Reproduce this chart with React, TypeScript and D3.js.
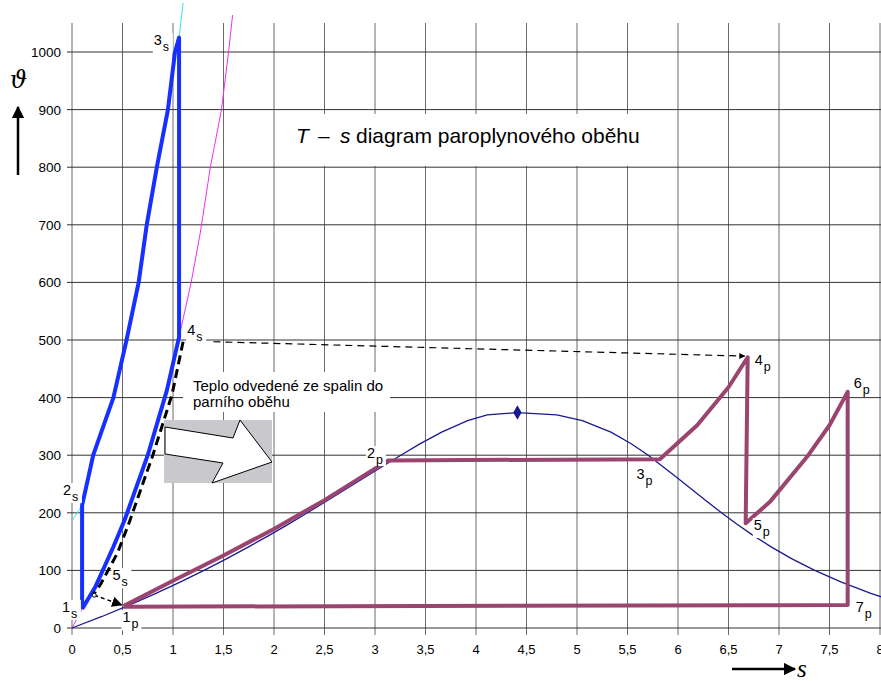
import React from "react";
import * as d3 from "d3";

const W = 881;
const H = 681;

// saturation curve of water: temperature, liquid entropy, vapour entropy
const satT = [0.01, 20, 40, 60, 80, 100, 120, 140, 160, 180, 200, 220, 240, 260, 280, 300, 320, 340, 360, 370];
const satSf = [0, 0.297, 0.573, 0.831, 1.075, 1.307, 1.528, 1.739, 1.943, 2.14, 2.331, 2.518, 2.702, 2.885, 3.069, 3.255, 3.449, 3.66, 3.917, 4.111];
const satSg = [9.155, 8.666, 8.256, 7.909, 7.612, 7.354, 7.129, 6.93, 6.75, 6.585, 6.431, 6.284, 6.141, 5.998, 5.852, 5.705, 5.537, 5.336, 5.053, 4.8];
const critical = { s: 4.41, t: 374 };

// steam cycle (p)
const steamS = [0.51, 1.0, 1.5, 2.0, 2.5, 3.13, 5.82, 6.19, 6.5, 6.69, 6.67, 6.91, 7.29, 7.5, 7.68, 7.68, 0.51];
const steamT = [38, 82, 126, 172, 222, 291, 293, 352, 418, 470, 182, 219, 300, 352, 410, 40, 37];

// gas cycle (s)
const gasS = [0.1, 0.1, 0.21, 0.41, 0.54, 0.66, 0.74, 0.84, 0.95, 1.02, 1.06, 1.06, 0.94, 0.75, 0.52, 0.41, 0.23, 0.1];
const gasT = [33, 213, 300, 400, 500, 600, 700, 800, 900, 1000, 1025, 505, 413, 300, 187, 141, 71, 33];

// isobar extensions
const hiIsoS = [1.06, 1.1];
const hiIsoT = [1025, 1085];
const hiIsoLowS = [0, 0.1];
const hiIsoLowT = [186, 213];
const loIsoS = [1.06, 1.18, 1.27, 1.37, 1.48, 1.55, 1.59];
const loIsoT = [505, 600, 686, 800, 900, 1000, 1064];
const loIsoLowS = [0, 0.1];
const loIsoLowT = [0, 33];

// heat given from flue gas to steam cycle
const hrsgS = [1.1, 0.99, 0.8, 0.57, 0.45, 0.28, 0.22];
const hrsgT = [497, 405, 300, 185, 130, 75, 60];

const xTicks = d3.range(0, 8.01, 0.5);
const yTicks = d3.range(0, 1001, 100);

const labels = [
  { n: "3", sub: "s", s: 0.81, t: 1012 },
  { n: "4", sub: "s", s: 1.14, t: 509 },
  { n: "2", sub: "s", s: -0.09, t: 231 },
  { n: "1", sub: "s", s: -0.1, t: 28 },
  { n: "5", sub: "s", s: 0.4, t: 83 },
  { n: "1", sub: "p", s: 0.5, t: 10 },
  { n: "2", sub: "p", s: 2.92, t: 295 },
  { n: "3", sub: "p", s: 5.59, t: 259 },
  { n: "4", sub: "p", s: 6.76, t: 457 },
  { n: "5", sub: "p", s: 6.75, t: 170 },
  { n: "6", sub: "p", s: 7.74, t: 417 },
  { n: "7", sub: "p", s: 7.76, t: 28 },
];

const x = d3.scaleLinear().domain([0, 8]).range([72, 880]);
const y = d3.scaleLinear().domain([0, 1000]).range([628, 52]);

const zip = (a: number[], b: number[]) => a.map((v, i) => [v, b[i]] as [number, number]);
const line = d3
  .line<[number, number]>()
  .x((d) => x(d[0]))
  .y((d) => y(d[1]));

const font = "'Liberation Sans', Arial, sans-serif";
const fmt = (v: number) => String(v).replace(".", ",");

const App = () => {
  const satPts: [number, number][] = [
    ...zip(satSf, satT),
    [critical.s, critical.t],
    ...zip(satSg, satT).reverse(),
  ];
  const top = 23;
  return (
    <svg
      width={W}
      height={H}
      style={{ position: "absolute", left: 0, top: 0, background: "#fff" }}
      fontFamily={font}
    >
      <defs>
        <marker id="ah" viewBox="0 0 10 10" refX="9" refY="5" markerWidth="7" markerHeight="7" orient="auto">
          <path d="M0,0 L10,5 L0,10 z" fill="#000" />
        </marker>
        <marker id="ah2" viewBox="0 0 10 10" refX="9" refY="5" markerWidth="5" markerHeight="5" orient="auto">
          <path d="M0,0 L10,5 L0,10 z" fill="#000" />
        </marker>
      </defs>

      {/* grid */}
      {xTicks.map((v) => (
        <line key={"vx" + v} x1={x(v)} x2={x(v)} y1={top} y2={635} stroke="#6a6a6a" strokeWidth={1} />
      ))}
      {yTicks.map((v) => (
        <line key={"hy" + v} x1={67} x2={W} y1={y(v)} y2={y(v)} stroke="#333" strokeWidth={1} />
      ))}

      {/* tick labels */}
      {yTicks.map((v) => (
        <text key={"ty" + v} x={61} y={y(v) + 5} textAnchor="end" fontSize={13.5}>
          {v}
        </text>
      ))}
      {xTicks.map((v) => (
        <text key={"tx" + v} x={x(v)} y={654} textAnchor="middle" fontSize={13}>
          {fmt(v)}
        </text>
      ))}

      {/* axis titles */}
      <text x={10} y={88} fontSize={24} fontStyle="italic" fontFamily="'DejaVu Serif', serif">
        ϑ
      </text>
      <line x1={18} y1={175} x2={18} y2={107} stroke="#000" strokeWidth={2.5} markerEnd="url(#ah2)" />
      <line x1={732} y1={669} x2={795} y2={669} stroke="#000" strokeWidth={2.5} markerEnd="url(#ah2)" />
      <text x={797} y={677} fontSize={25} fontStyle="italic" fontFamily="'Liberation Serif', serif">
        s
      </text>

      {/* title */}
      <rect x={285} y={114} width={380} height={52} fill="#fff" />
      <text y={143} fontSize={21}>
        <tspan x={296} fontStyle="italic">T</tspan>
        <tspan x={318}>–</tspan>
        <tspan x={340} fontStyle="italic">s</tspan>
        <tspan x={356}>diagram paroplynového oběhu</tspan>
      </text>

      {/* isobar extensions */}
      <path d={line(zip(hiIsoS, hiIsoT)) || ""} fill="none" stroke="#33e6f0" strokeWidth={1} />
      <path d={line(zip(hiIsoLowS, hiIsoLowT)) || ""} fill="none" stroke="#33e6f0" strokeWidth={1} />
      <path d={line(zip(loIsoS, loIsoT)) || ""} fill="none" stroke="#f030f0" strokeWidth={1} />
      <path d={line(zip(loIsoLowS, loIsoLowT)) || ""} fill="none" stroke="#f030f0" strokeWidth={1} />

      {/* annotation box */}
      <rect x={183} y={372} width={207} height={40} fill="#fff" />
      <text x={193} y={391} fontSize={15}>
        Teplo odvedené ze spalin do
      </text>
      <text x={193} y={407} fontSize={15}>
        parního oběhu
      </text>

      {/* saturation curve */}
      <path d={line(satPts) || ""} fill="none" stroke="#1a1a90" strokeWidth={1.3} />
      <path
        d={d3.symbol(d3.symbolDiamond, 60)() || ""}
        transform={`translate(${x(critical.s)},${y(critical.t)})`}
        fill="#1a1a90"
      />

      {/* steam cycle */}
      <path
        d={line(zip(steamS, steamT)) || ""}
        fill="none"
        stroke="#9a4470"
        strokeWidth={4}
        strokeLinejoin="round"
      />

      {/* gas cycle */}
      <path
        d={line(zip(gasS, gasT)) || ""}
        fill="none"
        stroke="#1530ff"
        strokeWidth={4}
        strokeLinejoin="round"
      />

      {/* heat transfer */}
      <path
        d={line(zip(hrsgS, hrsgT)) || ""}
        fill="none"
        stroke="#000"
        strokeWidth={3}
        strokeDasharray="9,5"
      />
      <line
        x1={x(0.22)}
        y1={y(57)}
        x2={x(0.49)}
        y2={y(40)}
        stroke="#000"
        strokeWidth={1.5}
        strokeDasharray="4,3"
        markerEnd="url(#ah)"
      />
      <circle cx={x(0.22)} cy={y(57)} r={2} fill="#fff" stroke="#000" strokeWidth={1} />
      <line
        x1={x(1.4)}
        y1={y(497)}
        x2={x(6.66)}
        y2={y(472)}
        stroke="#000"
        strokeWidth={1.2}
        strokeDasharray="7,5"
        markerEnd="url(#ah2)"
      />

      {/* block arrow */}
      <rect x={164} y={420} width={108} height={63} fill="#c9c8cd" />
      <path
        d="M165,427 L233,438 L240,420 L272,462 L212,483 L223,463 L165,454 Z"
        fill="#fff"
        stroke="#000"
        strokeWidth={1}
      />

      {/* point labels */}
      {labels.map((l, i) => {
        const px = x(l.s);
        const py = y(l.t);
        return (
          <g key={"lb" + i}>
            <rect x={px - 1} y={py - 12} width={20} height={20} fill="#fff" />
            <text x={px} y={py} fontSize={14.5}>
              {l.n}
            </text>
            <text x={px + 9} y={py + 6} fontSize={12.5}>
              {l.sub}
            </text>
          </g>
        );
      })}
    </svg>
  );
};

export default App;
